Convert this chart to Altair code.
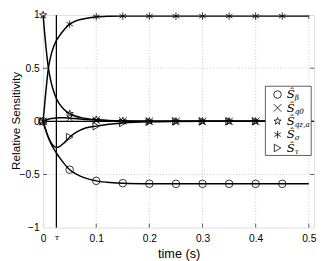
import altair as alt
import pandas as pd
import numpy as np

# ---- data ----
t = [0, 0.005, 0.01, 0.015, 0.02, 0.025, 0.03, 0.04, 0.05, 0.06, 0.07, 0.08,
     0.1, 0.12, 0.15, 0.2, 0.25, 0.3, 0.35, 0.4, 0.45, 0.5]
S_beta = [0, -0.085, -0.155, -0.212, -0.258, -0.298, -0.335, -0.4, -0.455, -0.49, -0.515, -0.534,
          -0.56, -0.573, -0.582, -0.587, -0.588, -0.588, -0.588, -0.588, -0.588, -0.588]
S_q0 = [0, 0.012, 0.02, 0.026, 0.03, 0.032, 0.033, 0.033, 0.03, 0.026, 0.022, 0.018,
        0.012, 0.008, 0.004, 0.001, 0, 0, 0, 0, 0, 0]
S_qza = [1.0, 0.72, 0.5, 0.37, 0.28, 0.215, 0.17, 0.11, 0.072, 0.05, 0.037, 0.028,
         0.016, 0.009, 0.004, 0.001, 0, 0, 0, 0, 0, 0]
S_sigma = [0, 0.27, 0.5, 0.625, 0.705, 0.76, 0.8, 0.865, 0.915, 0.942, 0.958, 0.968,
           0.985, 0.988, 0.99, 0.99, 0.99, 0.99, 0.99, 0.99, 0.99, 0.99]
S_tau = [0, -0.08, -0.15, -0.2, -0.232, -0.245, -0.24, -0.2, -0.148, -0.11, -0.083, -0.063,
         -0.045, -0.03, -0.015, -0.004, -0.001, 0, 0, 0, 0, 0]
marker_times = [0, 0.05, 0.1, 0.15, 0.2, 0.25, 0.3, 0.35, 0.4, 0.45]
tau_value = 0.025

series_names = ["beta", "q0", "qza", "sigma", "tau"]
legend_subs = ["β", "q0", "qz,a", "σ", "τ"]
x_ticks = [0.1, 0.2, 0.3, 0.4, 0.5]
y_ticks = [-0.5, 0, 0.5]
y_tick_all = [-1, -0.5, 0, 0.5, 1]

# ---- shapes ----
cross = "M-1,-1L1,1M-1,1L1,-1"
star = ("M0,-1L0.235,-0.324L0.951,-0.309L0.38,0.124L0.588,0.809L0,0.4"
        "L-0.588,0.809L-0.38,0.124L-0.951,-0.309L-0.235,-0.324Z")
aster = "M0,-1L0,1M-0.87,-0.5L0.87,0.5M-0.87,0.5L0.87,-0.5"
shape_range = ["circle", cross, star, aster, "triangle-right"]

series_vals = [S_beta, S_q0, S_qza, S_sigma, S_tau]
rows = []
for name, vals in zip(series_names, series_vals):
    for ti, v in zip(t, vals):
        rows.append({"series": name, "t": ti, "v": v,
                     "marker": bool(np.any(np.isclose(ti, marker_times)))})
df = pd.DataFrame(rows)

W, H = 278, 218
xs = alt.Scale(domain=[0, 0.51], nice=False, zero=False)
ys = alt.Scale(domain=[-1, 1], nice=False)

BLACK = "#000000"
FRAME = "#333333"

x_enc = alt.X("t:Q", scale=xs, axis=alt.Axis(
    values=[0, tau_value] + x_ticks,
    labelExpr="datum.value == 0.025 ? 'τ' : (datum.value == 0 ? '0' : format(datum.value, '.1f'))",
    labelFontStyle={"condition": {"test": "datum.value == 0.025", "value": "italic"}, "value": "normal"},
    labelFont={"condition": {"test": "datum.value == 0.025", "value": "DejaVu Serif"}, "value": "Liberation Sans"},
    labelFontSize={"condition": {"test": "datum.value == 0.025", "value": 8}, "value": 10.5},
    labelPadding=6, ticks=False, domain=False, grid=False,
    title="time (s)", titleFont="Liberation Sans", titleFontSize=13, titleFontWeight="normal",
    titleBaseline="alphabetic", titleY=31, labelColor=BLACK, titleColor=BLACK,
    labelFlush=False))
y_enc = alt.Y("v:Q", scale=ys, axis=alt.Axis(
    values=y_tick_all, format="~g", labelFont="Liberation Sans", labelFontSize=10.5, labelPadding=4,
    ticks=False, domain=False, grid=False,
    title="Relative Sensitivity", titleFont="Liberation Sans", titleFontSize=12,
    titleFontWeight="normal", titleBaseline="alphabetic", titleX=-24, titleY=108,
    labelColor=BLACK, titleColor=BLACK, labelFlush=False))

base = alt.Chart(df)

# gridlines
gx = alt.Chart(pd.DataFrame({"gx": x_ticks})).mark_rule(
    color="#bbbbbb", strokeDash=[1, 2], strokeWidth=0.8).encode(
    x=alt.X("gx:Q", scale=xs), y=alt.value(0), y2=alt.value(H))
gy = alt.Chart(pd.DataFrame({"gy": y_ticks})).mark_rule(
    color="#bbbbbb", strokeDash=[1, 2], strokeWidth=0.8).encode(
    y=alt.Y("gy:Q", scale=ys), x=alt.value(0), x2=alt.value(W))

# reference lines
zero_line = alt.Chart(pd.DataFrame({"z": [0]})).mark_rule(color=BLACK, strokeWidth=1.3).encode(
    y=alt.Y("z:Q", scale=ys), x=alt.value(0), x2=alt.value(W))
tau_line = alt.Chart(pd.DataFrame({"tt": [tau_value]})).mark_rule(color=BLACK, strokeWidth=1.3).encode(
    x=alt.X("tt:Q", scale=xs), y=alt.value(0), y2=alt.value(H))

lines = base.mark_line(color=BLACK, strokeWidth=1.5, interpolate="monotone").encode(
    x=x_enc, y=y_enc, detail="series:N", order="t:Q")

points = base.transform_filter("datum.marker").mark_point(
    filled=False, color=BLACK, strokeWidth=0.8, size=60, opacity=1).encode(
    x=alt.X("t:Q", scale=xs), y=alt.Y("v:Q", scale=ys),
    shape=alt.Shape("series:N", scale=alt.Scale(domain=series_names, range=shape_range), legend=None))

# ticks (inside, on all four sides)
tick_len = 4
xt = pd.DataFrame({"xt": x_ticks})
ticks_xb = alt.Chart(xt).mark_rule(color=FRAME, strokeWidth=0.8).encode(
    x=alt.X("xt:Q", scale=xs), y=alt.value(H), y2=alt.value(H - tick_len))
ticks_xt = alt.Chart(xt).mark_rule(color=FRAME, strokeWidth=0.8).encode(
    x=alt.X("xt:Q", scale=xs), y=alt.value(0), y2=alt.value(tick_len))
yt = pd.DataFrame({"yt": y_ticks})
ticks_yl = alt.Chart(yt).mark_rule(color=FRAME, strokeWidth=0.8).encode(
    y=alt.Y("yt:Q", scale=ys), x=alt.value(0), x2=alt.value(tick_len))
ticks_yr = alt.Chart(yt).mark_rule(color=FRAME, strokeWidth=0.8).encode(
    y=alt.Y("yt:Q", scale=ys), x=alt.value(W), x2=alt.value(W - tick_len))

# legend
leg_df = pd.DataFrame({"series": series_names, "sub": legend_subs, "i": list(range(5))})
leg_box = alt.Chart(pd.DataFrame({"b": [0]})).mark_rect(
    fill="white", stroke=FRAME, strokeWidth=0.8).encode(
    x=alt.value(228), x2=alt.value(275), y=alt.value(73), y2=alt.value(144))
leg = alt.Chart(leg_df).transform_calculate(py="81.5 + 13.7 * datum.i")
leg_sym = leg.mark_point(filled=False, color=BLACK, strokeWidth=0.8, size=60, opacity=1).encode(
    x=alt.value(240.5), y=alt.Y("py:Q", scale=None),
    shape=alt.Shape("series:N", scale=alt.Scale(domain=series_names, range=shape_range), legend=None))
leg_S = leg.mark_text(text="Ŝ", font="DejaVu Serif", fontStyle="italic", fontSize=12,
                      align="left", baseline="middle", color=BLACK, fill=BLACK).encode(
    x=alt.value(250), y=alt.Y("py:Q", scale=None))
leg_sub = leg.mark_text(font="DejaVu Serif", fontStyle="italic", fontSize=7.5,
                        align="left", baseline="middle", color=BLACK, fill=BLACK, dy=4).encode(
    x=alt.value(258), y=alt.Y("py:Q", scale=None), text="sub:N")

chart = alt.layer(
    gx, gy, zero_line, tau_line, lines, points,
    ticks_xb, ticks_xt, ticks_yl, ticks_yr,
    leg_box, leg_sym, leg_S, leg_sub
).properties(
    width=W, height=H,
    autosize=alt.AutoSizeParams(type="none"),
    padding={"left": 36, "top": 4, "right": 5, "bottom": 31},
).configure_view(stroke=FRAME, strokeWidth=1).configure(background="white")

chart.save("out.html", embed_options={"renderer": "svg", "actions": False})
